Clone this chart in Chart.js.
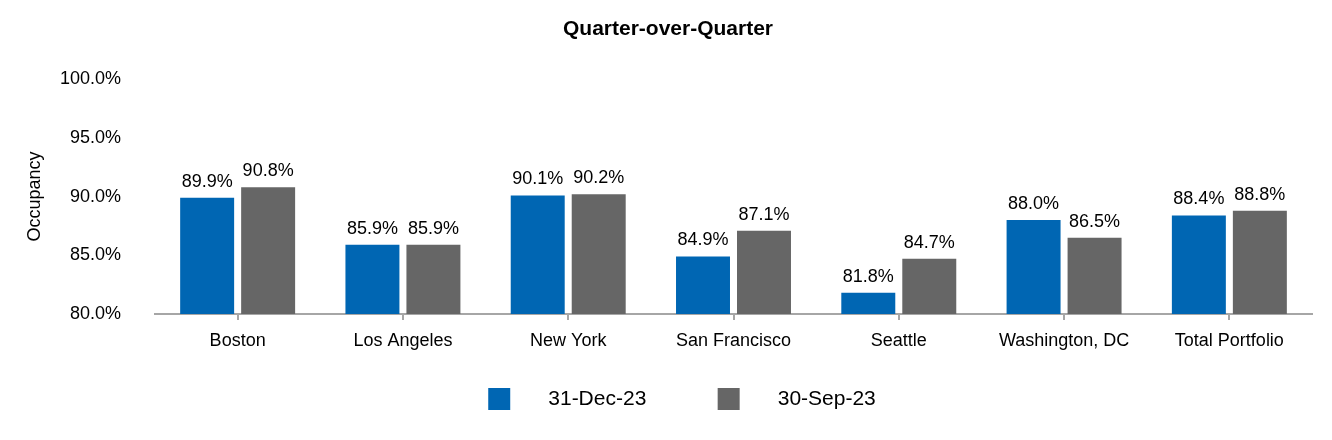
<!DOCTYPE html>
<html>
<head>
<meta charset="utf-8">
<script src="https://cdn.jsdelivr.net/npm/chart.js@4.4.1/dist/chart.umd.min.js"></script>
<style>
  html, body { margin: 0; padding: 0; background: #fff; }
  #wrap { width: 1332px; height: 440px; position: relative; }
</style>
</head>
<body>
<div id="wrap"><canvas id="barChart"></canvas></div>
<script>
var categories = ['Boston', 'Los Angeles', 'New York', 'San Francisco', 'Seattle', 'Washington, DC', 'Total Portfolio'];
var dec23 = [89.9, 85.9, 90.1, 84.9, 81.8, 88.0, 88.4];
var sep23 = [90.8, 85.9, 90.2, 87.1, 84.7, 86.5, 88.8];
var seriesNames = ['31-Dec-23', '30-Sep-23'];
var yTicks = [80, 85, 90, 95, 100];

Chart.defaults.font.family = '"Liberation Sans", Arial, sans-serif';
Chart.defaults.color = '#000';

// value labels above each bar
var barLabels = {
  id: 'barLabels',
  afterDatasetsDraw: function (chart) {
    var ctx = chart.ctx;
    ctx.save();
    ctx.font = '18px "Liberation Sans", Arial, sans-serif';
    ctx.fillStyle = '#000';
    ctx.textAlign = 'center';
    ctx.textBaseline = 'bottom';
    chart.data.datasets.forEach(function (ds, i) {
      var meta = chart.getDatasetMeta(i);
      meta.data.forEach(function (bar, j) {
        ctx.fillText(ds.data[j].toFixed(1) + '%', bar.x, bar.y - 7);
      });
    });
    ctx.restore();
  }
};

// nudge the legend a bit right, like the original
var legendShift = {
  id: 'legendShift',
  afterLayout: function (chart) {
    chart.legend.left += 14;
    chart.legend.right += 14;
  }
};

var ctx = document.getElementById('barChart').getContext('2d');
new Chart(ctx, {
  type: 'bar',
  data: {
    labels: categories,
    datasets: [
      { label: seriesNames[0], data: dec23, backgroundColor: '#0066b3' },
      { label: seriesNames[1], data: sep23, backgroundColor: '#666666' }
    ]
  },
  options: {
    responsive: true,
    maintainAspectRatio: false,
    animation: false,
    layout: { padding: { left: 24, right: 20, top: 0, bottom: 20 } },
    datasets: { bar: { categoryPercentage: 0.738, barPercentage: 0.885 } },
    plugins: {
      title: {
        display: true,
        text: 'Quarter-over-Quarter',
        font: { size: 21, weight: 'bold' },
        padding: { top: 17, bottom: 37 }
      },
      legend: {
        position: 'bottom',
        labels: {
          boxWidth: 22,
          boxHeight: 22,
          padding: 13,
          font: { size: 21 },
          generateLabels: function (chart) {
            var items = Chart.defaults.plugins.legend.labels.generateLabels(chart);
            items.forEach(function (it, i) {
              it.text = '    \u2009' + it.text + (i === 0 ? '          ' : '');
              it.lineWidth = 0;
            });
            return items;
          }
        }
      },
      tooltip: { enabled: false }
    },
    scales: {
      x: {
        grid: { display: true, drawOnChartArea: false, offset: false, tickLength: 6, color: '#a6a6a6', lineWidth: 2 },
        border: { display: true, color: '#a6a6a6', width: 2 },
        ticks: { font: { size: 18 }, padding: 10, maxRotation: 0 },
        afterFit: function (scale) { scale.height = 61; }
      },
      y: {
        min: 80,
        max: 100,
        afterBuildTicks: function (axis) {
          axis.ticks = yTicks.map(function (v) { return { value: v }; });
        },
        grid: { display: false },
        border: { display: false },
        ticks: {
          font: { size: 18 },
          padding: 26,
          callback: function (v) { return v.toFixed(1) + '%'; }
        },
        title: {
          display: true,
          text: 'Occupancy',
          font: { size: 18 },
          padding: { top: 0, bottom: 15 }
        },
        afterFit: function (scale) { scale.width = 131; }
      }
    }
  },
  plugins: [barLabels, legendShift]
});
</script>
</body>
</html>
